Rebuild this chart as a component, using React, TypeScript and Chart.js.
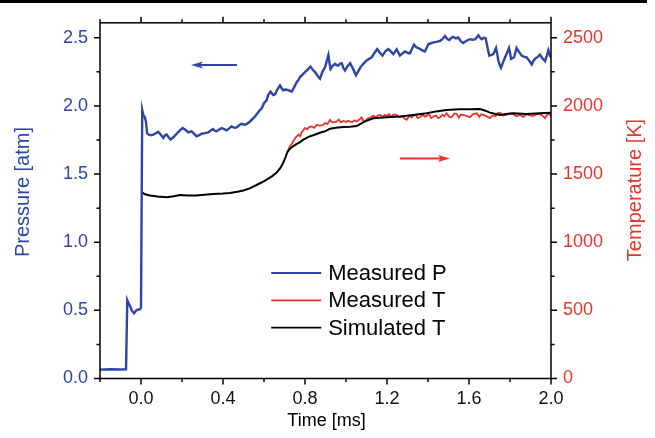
import React, { useEffect, useRef } from 'react';
import { Chart, registerables } from 'chart.js';

Chart.register(...registerables);

const BLUE = '#2D45A5';
const RED = '#E8352B';
const BLACK = '#000000';
const FONT = "'Liberation Sans', Arial, sans-serif";

const X_TICKS = [0, 0.4, 0.8, 1.2, 1.6, 2.0];
const X_MINOR = [-0.2, 0.2, 0.6, 1.0, 1.4, 1.8];
const P_TICKS = [0, 0.5, 1.0, 1.5, 2.0, 2.5];
const P_MINOR = [0.25, 0.75, 1.25, 1.75, 2.25];
const T_TICKS = [0, 500, 1000, 1500, 2000, 2500];
const T_MINOR = [250, 750, 1250, 1750, 2250];

const X_RANGE = [-0.2, 2.0];
const P_RANGE = [0, 2.61];
const T_RANGE = [0, 2610];

const P_TIME = [
  -0.2, -0.15, -0.1, -0.073, -0.067, -0.06, -0.054, -0.045, -0.034, -0.021, -0.005, 0.0,
  0.006, 0.012, 0.018, 0.024, 0.03, 0.036, 0.048, 0.06, 0.072, 0.084, 0.096, 0.109, 0.117,
  0.125, 0.135, 0.144, 0.158, 0.174, 0.19, 0.203, 0.216, 0.231, 0.247, 0.26, 0.271, 0.284,
  0.296, 0.312, 0.328, 0.34, 0.352, 0.36, 0.369, 0.38, 0.393, 0.405, 0.418, 0.43, 0.442,
  0.455, 0.467, 0.48, 0.491, 0.503, 0.515, 0.532, 0.548, 0.556, 0.57, 0.58, 0.589, 0.6,
  0.613, 0.621, 0.632, 0.645, 0.654, 0.665, 0.678, 0.686, 0.694, 0.705, 0.719, 0.735,
  0.748, 0.76, 0.768, 0.776, 0.788, 0.8, 0.815, 0.827, 0.838, 0.849, 0.862, 0.873, 0.885,
  0.898, 0.906, 0.914, 0.92, 0.925, 0.935, 0.946, 0.954, 0.962, 0.97, 0.979, 0.987, 0.995,
  1.007, 1.02, 1.035, 1.049, 1.06, 1.071, 1.085, 1.1, 1.112, 1.125, 1.14, 1.152, 1.165,
  1.178, 1.192, 1.206, 1.215, 1.231, 1.247, 1.263, 1.275, 1.288, 1.3, 1.312, 1.322, 1.332,
  1.343, 1.353, 1.37, 1.385, 1.395, 1.402, 1.415, 1.426, 1.442, 1.459, 1.47, 1.483, 1.494,
  1.504, 1.514, 1.524, 1.536, 1.548, 1.56, 1.572, 1.59, 1.605, 1.618, 1.63, 1.646, 1.654,
  1.662, 1.672, 1.681, 1.69, 1.699, 1.71, 1.719, 1.732, 1.738, 1.743, 1.75, 1.756, 1.766,
  1.776, 1.786, 1.795, 1.8, 1.805, 1.812, 1.82, 1.826, 1.832, 1.845, 1.857, 1.87, 1.881,
  1.895, 1.906, 1.914, 1.922, 1.935, 1.946, 1.958, 1.971, 1.98, 1.987, 1.995, 2.0,
];
const P_VALUE = [
  0.065, 0.068, 0.066, 0.067, 0.575, 0.55, 0.533, 0.5, 0.478, 0.502, 0.509, 0.52,
  1.97, 1.93, 1.92, 1.886, 1.8, 1.79, 1.785, 1.79, 1.8, 1.81, 1.79, 1.765, 1.785,
  1.79, 1.77, 1.753, 1.77, 1.796, 1.82, 1.838, 1.825, 1.806, 1.814, 1.795, 1.777, 1.785,
  1.796, 1.8, 1.806, 1.82, 1.83, 1.818, 1.814, 1.825, 1.838, 1.83, 1.821, 1.835, 1.85,
  1.84, 1.843, 1.86, 1.869, 1.862, 1.867, 1.886, 1.91, 1.922, 1.95, 1.97, 1.983, 2.02,
  2.043, 2.084, 2.104, 2.08, 2.086, 2.12, 2.151, 2.13, 2.115, 2.12, 2.115, 2.104,
  2.14, 2.176, 2.19, 2.212, 2.23, 2.248, 2.27, 2.289, 2.265, 2.248, 2.22, 2.2, 2.25,
  2.285, 2.33, 2.374, 2.31, 2.272, 2.295, 2.309, 2.3, 2.296, 2.31, 2.314, 2.28, 2.26,
  2.29, 2.314, 2.27, 2.224, 2.255, 2.285, 2.31, 2.333, 2.345, 2.357, 2.39, 2.417, 2.39,
  2.369, 2.4, 2.417, 2.405, 2.38, 2.415, 2.369, 2.385, 2.4, 2.39, 2.386, 2.42, 2.449,
  2.43, 2.425, 2.41, 2.4, 2.43, 2.454, 2.46, 2.466, 2.47, 2.478, 2.49, 2.514, 2.49,
  2.483, 2.5, 2.507, 2.495, 2.502, 2.475, 2.461, 2.48, 2.49, 2.485, 2.49, 2.519, 2.5,
  2.49, 2.5, 2.497, 2.43, 2.369, 2.375, 2.381, 2.425, 2.38, 2.333, 2.3, 2.28, 2.32,
  2.357, 2.39, 2.425, 2.39, 2.345, 2.35, 2.357, 2.39, 2.425, 2.395, 2.369, 2.36, 2.357,
  2.33, 2.304, 2.33, 2.345, 2.36, 2.376, 2.35, 2.328, 2.37, 2.41, 2.37, 2.357,
];

const TM_TIME = [
  0.714, 0.725, 0.735, 0.743, 0.755, 0.768, 0.776, 0.785, 0.792, 0.8, 0.81, 0.82, 0.833,
  0.845, 0.857, 0.865, 0.875, 0.889, 0.898, 0.91, 0.922, 0.93, 0.94, 0.955, 0.965, 0.975,
  0.987, 1.0, 1.01, 1.02, 1.03, 1.04, 1.052, 1.065, 1.076, 1.085, 1.093, 1.105, 1.12,
  1.133, 1.145, 1.155, 1.166, 1.18, 1.19, 1.199, 1.21, 1.22, 1.232, 1.247, 1.255, 1.263,
  1.275, 1.285, 1.296, 1.31, 1.32, 1.328, 1.34, 1.35, 1.361, 1.375, 1.385, 1.393, 1.405,
  1.415, 1.426, 1.44, 1.45, 1.459, 1.47, 1.48, 1.49, 1.503, 1.515, 1.528, 1.54, 1.55,
  1.56, 1.572, 1.59, 1.605, 1.62, 1.638, 1.65, 1.66, 1.67, 1.685, 1.702, 1.715, 1.73,
  1.74, 1.751, 1.765, 1.783, 1.8, 1.816, 1.83, 1.849, 1.865, 1.881, 1.895, 1.914, 1.93,
  1.946, 1.96, 1.971, 1.985, 2.0,
];
const TM_VALUE = [
  1662, 1700, 1720, 1741, 1770, 1789, 1778, 1810, 1821, 1838, 1828, 1845, 1850,
  1840, 1862, 1858, 1855, 1862, 1874, 1868, 1898, 1882, 1880, 1886, 1900, 1880,
  1890, 1882, 1892, 1886, 1880, 1895, 1886, 1900, 1915, 1890, 1886, 1908, 1915,
  1927, 1918, 1930, 1934, 1920, 1935, 1927, 1940, 1920, 1938, 1934, 1925, 1917,
  1925, 1908, 1898, 1930, 1915, 1927, 1935, 1912, 1917, 1935, 1920, 1927, 1940,
  1912, 1922, 1930, 1910, 1917, 1935, 1925, 1946, 1920, 1917, 1945, 1941, 1915,
  1935, 1934, 1925, 1917, 1940, 1946, 1920, 1938, 1934, 1925, 1910, 1930, 1925,
  1948, 1951, 1930, 1934, 1945, 1941, 1925, 1934, 1920, 1941, 1930, 1927, 1940,
  1941, 1925, 1910, 1945, 1930,
];

const TS_TIME = [
  0.003, 0.02, 0.044, 0.08, 0.125, 0.16, 0.19, 0.23, 0.271, 0.31, 0.352, 0.4, 0.434,
  0.47, 0.499, 0.53, 0.564, 0.59, 0.613, 0.64, 0.662, 0.68, 0.694, 0.705, 0.714, 0.728,
  0.743, 0.76, 0.776, 0.792, 0.82, 0.84, 0.873, 0.9, 0.922, 0.95, 0.987, 1.02, 1.052,
  1.09, 1.133, 1.199, 1.263, 1.328, 1.393, 1.44, 1.49, 1.555, 1.6, 1.654, 1.68, 1.702,
  1.751, 1.78, 1.816, 1.881, 1.946, 2.0,
];
const TS_VALUE = [
  1367, 1352, 1343, 1335, 1330, 1338, 1347, 1343, 1343, 1348, 1354, 1358, 1362,
  1370, 1379, 1395, 1420, 1440, 1459, 1485, 1512, 1545, 1584, 1625, 1662, 1688,
  1705, 1722, 1735, 1753, 1775, 1785, 1803, 1815, 1833, 1840, 1845, 1847, 1852,
  1885, 1910, 1917, 1922, 1934, 1946, 1960, 1970, 1975, 1975, 1977, 1965, 1951,
  1934, 1940, 1946, 1941, 1946, 1950,
];

const SERIES_LABELS = ['Measured P', 'Measured T', 'Simulated T'];
const AXIS_TITLES = ['Time [ms]', 'Pressure [atm]', 'Temperature [K]'];

// arrows in data units: [fromX, toX, yValue]
const ARROW_P = [0.468, 0.244, 2.3];
const ARROW_T = [1.263, 1.507, 1615];

const zip = (xs: number[], ys: number[]) => xs.map((x, i) => ({ x, y: ys[i] }));

const decorPlugin = {
  id: 'decor',
  afterDraw(chart: any) {
    const { ctx, chartArea } = chart;
    const { left, right, top, bottom } = chartArea;
    const sx = chart.scales.x;
    const sp = chart.scales.yP;
    const st = chart.scales.yT;
    ctx.save();
    ctx.strokeStyle = '#000';
    ctx.lineWidth = 1.5;
    ctx.strokeRect(left, top, right - left, bottom - top);
    const MAJ = 6;
    const MIN = 3.5;
    ctx.beginPath();
    const xt = (v: number, len: number) => {
      const px = sx.getPixelForValue(v);
      ctx.moveTo(px, bottom);
      ctx.lineTo(px, bottom + len);
      ctx.moveTo(px, top);
      ctx.lineTo(px, top - len);
    };
    X_TICKS.forEach((v) => xt(v, MAJ));
    X_MINOR.forEach((v) => xt(v, MIN));
    const lt = (v: number, len: number) => {
      const py = sp.getPixelForValue(v);
      ctx.moveTo(left, py);
      ctx.lineTo(left - len, py);
    };
    P_TICKS.forEach((v) => lt(v, MAJ));
    P_MINOR.forEach((v) => lt(v, MIN));
    const rt = (v: number, len: number) => {
      const py = st.getPixelForValue(v);
      ctx.moveTo(right, py);
      ctx.lineTo(right + len, py);
    };
    T_TICKS.forEach((v) => rt(v, MAJ));
    T_MINOR.forEach((v) => rt(v, MIN));
    ctx.stroke();

    // axis titles
    ctx.textAlign = 'center';
    ctx.textBaseline = 'alphabetic';
    ctx.font = `20px ${FONT}`;
    ctx.fillStyle = BLUE;
    ctx.save();
    ctx.translate(29, 192);
    ctx.rotate(-Math.PI / 2);
    ctx.fillText(AXIS_TITLES[1], 0, 0);
    ctx.restore();
    ctx.fillStyle = RED;
    ctx.save();
    ctx.translate(641, 190);
    ctx.rotate(-Math.PI / 2);
    ctx.fillText(AXIS_TITLES[2], 0, 0);
    ctx.restore();
    ctx.fillStyle = '#000';
    ctx.font = `18px ${FONT}`;
    ctx.fillText(AXIS_TITLES[0], (left + right) / 2 + 1, 426);

    // arrows
    const arrow = (a: number[], scale: any, color: string) => {
      const x1 = sx.getPixelForValue(a[0]);
      const x2 = sx.getPixelForValue(a[1]);
      const y = scale.getPixelForValue(a[2]);
      const dir = Math.sign(x2 - x1);
      ctx.strokeStyle = color;
      ctx.fillStyle = color;
      ctx.lineWidth = 2;
      ctx.beginPath();
      ctx.moveTo(x1, y);
      ctx.lineTo(x2 - dir * 8, y);
      ctx.stroke();
      ctx.beginPath();
      ctx.moveTo(x2, y);
      ctx.lineTo(x2 - dir * 12, y - 3.5);
      ctx.lineTo(x2 - dir * 9, y);
      ctx.lineTo(x2 - dir * 12, y + 3.5);
      ctx.closePath();
      ctx.fill();
    };
    arrow(ARROW_P, sp, BLUE);
    arrow(ARROW_T, st, RED);

    // legend
    const lx1 = sx.getPixelForValue(0.635);
    ctx.font = `22px ${FONT}`;
    ctx.textAlign = 'left';
    ctx.textBaseline = 'middle';
    [0, 1, 2].forEach((di, i) => {
      const ds = chart.data.datasets[di];
      const y = 273 + i * 27.3;
      ctx.strokeStyle = ds.borderColor;
      ctx.lineWidth = 1.8;
      ctx.beginPath();
      ctx.moveTo(lx1, y);
      ctx.lineTo(lx1 + 50, y);
      ctx.stroke();
      ctx.fillStyle = '#000';
      ctx.fillText(ds.label, lx1 + 57, y + 1);
    });
    ctx.restore();
  },
};

export default function App() {
  const ref = useRef<HTMLCanvasElement>(null);
  useEffect(() => {
    if (!ref.current) return;
    const chart = new Chart(ref.current, {
      type: 'line',
      data: {
        datasets: [
          {
            label: SERIES_LABELS[0],
            data: zip(P_TIME, P_VALUE),
            borderColor: BLUE,
            borderWidth: 2.4,
            pointRadius: 0,
            yAxisID: 'yP',
            order: 0,
          },
          {
            label: SERIES_LABELS[1],
            data: zip(TM_TIME, TM_VALUE),
            borderColor: RED,
            borderWidth: 1.8,
            pointRadius: 0,
            yAxisID: 'yT',
            order: 2,
          },
          {
            label: SERIES_LABELS[2],
            data: zip(TS_TIME, TS_VALUE),
            borderColor: BLACK,
            borderWidth: 2,
            pointRadius: 0,
            yAxisID: 'yT',
            order: 1,
          },
        ],
      },
      options: {
        responsive: false,
        animation: false,
        devicePixelRatio: 1,
        layout: { padding: { top: 18, left: 0, right: 0, bottom: 0 } },
        plugins: { legend: { display: false }, tooltip: { enabled: false } },
        elements: { line: { tension: 0 } },
        scales: {
          x: {
            type: 'linear',
            min: X_RANGE[0],
            max: X_RANGE[1],
            grid: { display: false, drawTicks: false },
            border: { display: false },
            afterBuildTicks: (s: any) => {
              s.ticks = X_TICKS.map((value) => ({ value }));
            },
            afterFit: (s: any) => {
              s.height = 59.5;
            },
            ticks: {
              autoSkip: false,
              maxRotation: 0,
              padding: 10,
              color: '#111',
              font: { family: FONT, size: 18 },
              callback: (v: any) => Number(v).toFixed(1),
            },
          },
          yP: {
            type: 'linear',
            position: 'left',
            min: P_RANGE[0],
            max: P_RANGE[1],
            grid: { display: false, drawTicks: false },
            border: { display: false },
            afterBuildTicks: (s: any) => {
              s.ticks = P_TICKS.map((value) => ({ value }));
            },
            afterFit: (s: any) => {
              s.width = 100;
            },
            ticks: {
              autoSkip: false,
              padding: 12,
              color: BLUE,
              font: { family: FONT, size: 18 },
              callback: (v: any) => Number(v).toFixed(1),
            },
          },
          yT: {
            type: 'linear',
            position: 'right',
            min: T_RANGE[0],
            max: T_RANGE[1],
            grid: { display: false, drawTicks: false },
            border: { display: false },
            afterBuildTicks: (s: any) => {
              s.ticks = T_TICKS.map((value) => ({ value }));
            },
            afterFit: (s: any) => {
              s.width = 104;
            },
            ticks: {
              autoSkip: false,
              padding: 12,
              color: RED,
              font: { family: FONT, size: 18 },
              callback: (v: any) => String(v),
            },
          },
        },
      },
      plugins: [decorPlugin],
    } as any);
    return () => chart.destroy();
  }, []);

  return (
    <div style={{ position: 'absolute', left: 0, top: 0, width: 655, height: 438, background: '#fff' }}>
      <canvas ref={ref} width={655} height={438} style={{ display: 'block', width: 655, height: 438 }} />
      <div style={{ position: 'absolute', left: 0, top: 0, width: 647, height: 3, background: '#000' }} />
    </div>
  );
}
